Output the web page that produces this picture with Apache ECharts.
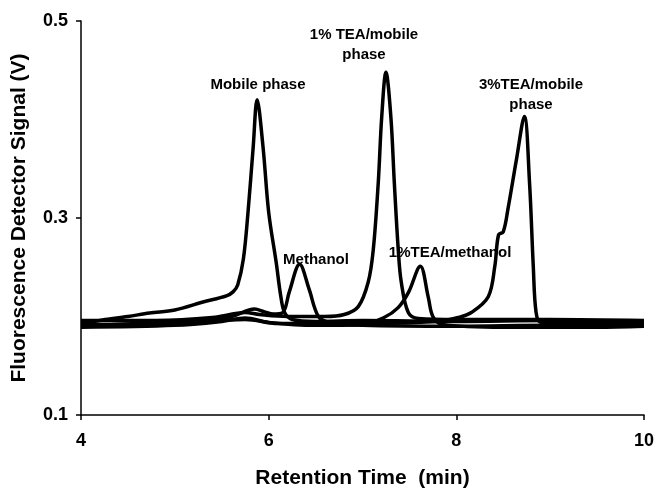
<!DOCTYPE html>
<html>
<head>
<meta charset="utf-8">
<script src="https://cdn.jsdelivr.net/npm/echarts@6/dist/echarts.min.js"></script>
<style>
    html, body { margin: 0; padding: 0; background: #fff; }
    #chroma { width: 657px; height: 488px; }
</style>
</head>
<body>
<div id="chroma"></div>
<script>
// traces: [retention time (min), signal (V)]
var mobilePhase = [
    [4.0, 0.193], [4.23, 0.1965], [4.5, 0.200], [4.73, 0.2036], [5.0, 0.2066], [5.3, 0.2147],
    [5.55, 0.221], [5.62, 0.225], [5.67, 0.232], [5.73, 0.258], [5.78, 0.306], [5.835, 0.372],
    [5.877, 0.420], [5.94, 0.372], [6.0, 0.306], [6.08, 0.255], [6.13, 0.220], [6.17, 0.204],
    [6.25, 0.197], [6.5, 0.195], [7.0, 0.196], [8.0, 0.195], [9.0, 0.196], [10.0, 0.195]
];
var methanol = [
    [4.0, 0.190], [4.6, 0.193], [5.2, 0.196], [5.6, 0.200], [5.85, 0.2075], [5.95, 0.205],
    [6.05, 0.2025], [6.15, 0.204], [6.22, 0.225], [6.33, 0.253], [6.43, 0.228], [6.53, 0.200],
    [6.65, 0.194], [7.0, 0.191], [8.0, 0.190], [9.0, 0.191], [10.0, 0.190]
];
var teaMobile1 = [
    [4.0, 0.196], [4.8, 0.196], [5.4, 0.199], [5.75, 0.204], [5.9, 0.202], [6.2, 0.200],
    [6.6, 0.200], [6.805, 0.202], [6.955, 0.210], [7.061, 0.235], [7.115, 0.268], [7.168, 0.336],
    [7.205, 0.403], [7.25, 0.448], [7.302, 0.403], [7.339, 0.336], [7.381, 0.268], [7.413, 0.235],
    [7.488, 0.204], [7.595, 0.198], [8.0, 0.197], [9.0, 0.197], [10.0, 0.196]
];
var teaMethanol1 = [
    [4.0, 0.189], [5.0, 0.191], [5.5, 0.195], [5.75, 0.1985], [6.0, 0.194], [6.5, 0.191],
    [7.0, 0.192], [7.23, 0.199], [7.38, 0.209], [7.49, 0.2245], [7.616, 0.251], [7.70, 0.220],
    [7.75, 0.200], [7.85, 0.192], [8.5, 0.189], [9.5, 0.189], [10.0, 0.190]
];
var teaMobile3 = [
    [4.0, 0.192], [5.0, 0.193], [5.75, 0.197], [6.1, 0.193], [7.0, 0.193], [7.8, 0.195],
    [8.02, 0.199], [8.16, 0.204], [8.34, 0.220], [8.41, 0.251], [8.45, 0.283], [8.50, 0.286],
    [8.55, 0.309], [8.64, 0.359], [8.725, 0.403], [8.78, 0.336], [8.82, 0.251], [8.85, 0.204],
    [8.9, 0.194], [9.2, 0.193], [10.0, 0.193]
];

// peak annotations: [x, y, text]
var peakLabels = [
    [5.886, 0.435, 'Mobile phase'],
    [6.504, 0.2574, 'Methanol'],
    [7.016, 0.4756, '1% TEA/mobile\nphase'],
    [7.933, 0.2645, '1%TEA/methanol'],
    [8.796, 0.4249, '3%TEA/mobile\nphase']
];

var xTicks = [4, 10, 2];      // min, max, step
var yTicks = [0.1, 0.5, 0.2];

var traces = [mobilePhase, methanol, teaMobile1, teaMethanol1, teaMobile3];

function traceSeries(data)
{
    return {
        type: 'line',
        data: data,
        showSymbol: false,
        smooth: 0.35,
        silent: true,
        lineStyle: { color: '#000', width: 3.5 }
    };
}

var seriesList = traces.map(traceSeries);
seriesList.push({
    type: 'scatter',
    data: peakLabels,
    symbolSize: 0,
    silent: true,
    itemStyle: { color: '#000', opacity: 1 },
    label: {
        show: true,
        position: 'inside',
        formatter: function (p) { return p.data[2]; },
        color: '#000',
        opacity: 1,
        fontFamily: 'Liberation Sans',
        fontWeight: 'bold',
        fontSize: 15,
        lineHeight: 20
    }
});

var option = {
    animation: false,
    backgroundColor: '#fff',
    grid: { left: 81, right: 13, top: 21, bottom: 73, outerBoundsMode: 'none' },
    xAxis: {
        type: 'value',
        min: xTicks[0], max: xTicks[1], interval: xTicks[2],
        name: 'Retention Time  (min)',
        nameLocation: 'middle',
        nameGap: 53,
        nameTextStyle: { color: '#000', fontFamily: 'Liberation Sans', fontWeight: 'bold', fontSize: 21 },
        axisLine: { lineStyle: { color: '#000', width: 1.5 } },
        axisTick: { length: 5, lineStyle: { color: '#000', width: 1.5 } },
        axisLabel: { color: '#000', fontFamily: 'Liberation Sans', fontWeight: 'bold', fontSize: 18, margin: 17 },
        splitLine: { show: false }
    },
    yAxis: {
        type: 'value',
        min: yTicks[0], max: yTicks[1], interval: yTicks[2],
        name: 'Fluorescence Detector Signal (V)',
        nameLocation: 'middle',
        nameGap: 51,
        nameTextStyle: { color: '#000', fontFamily: 'Liberation Sans', fontWeight: 'bold', fontSize: 21 },
        axisLine: { show: true, lineStyle: { color: '#000', width: 1.5 } },
        axisTick: { show: true, length: 5, lineStyle: { color: '#000', width: 1.5 } },
        axisLabel: {
            color: '#000', fontFamily: 'Liberation Sans', fontWeight: 'bold', fontSize: 18, margin: 13,
            formatter: function (v) { return v.toFixed(1); }
        },
        splitLine: { show: false }
    },
    series: seriesList
};

var chroma = echarts.init(document.getElementById('chroma'));
chroma.setOption(option);
</script>
</body>
</html>
